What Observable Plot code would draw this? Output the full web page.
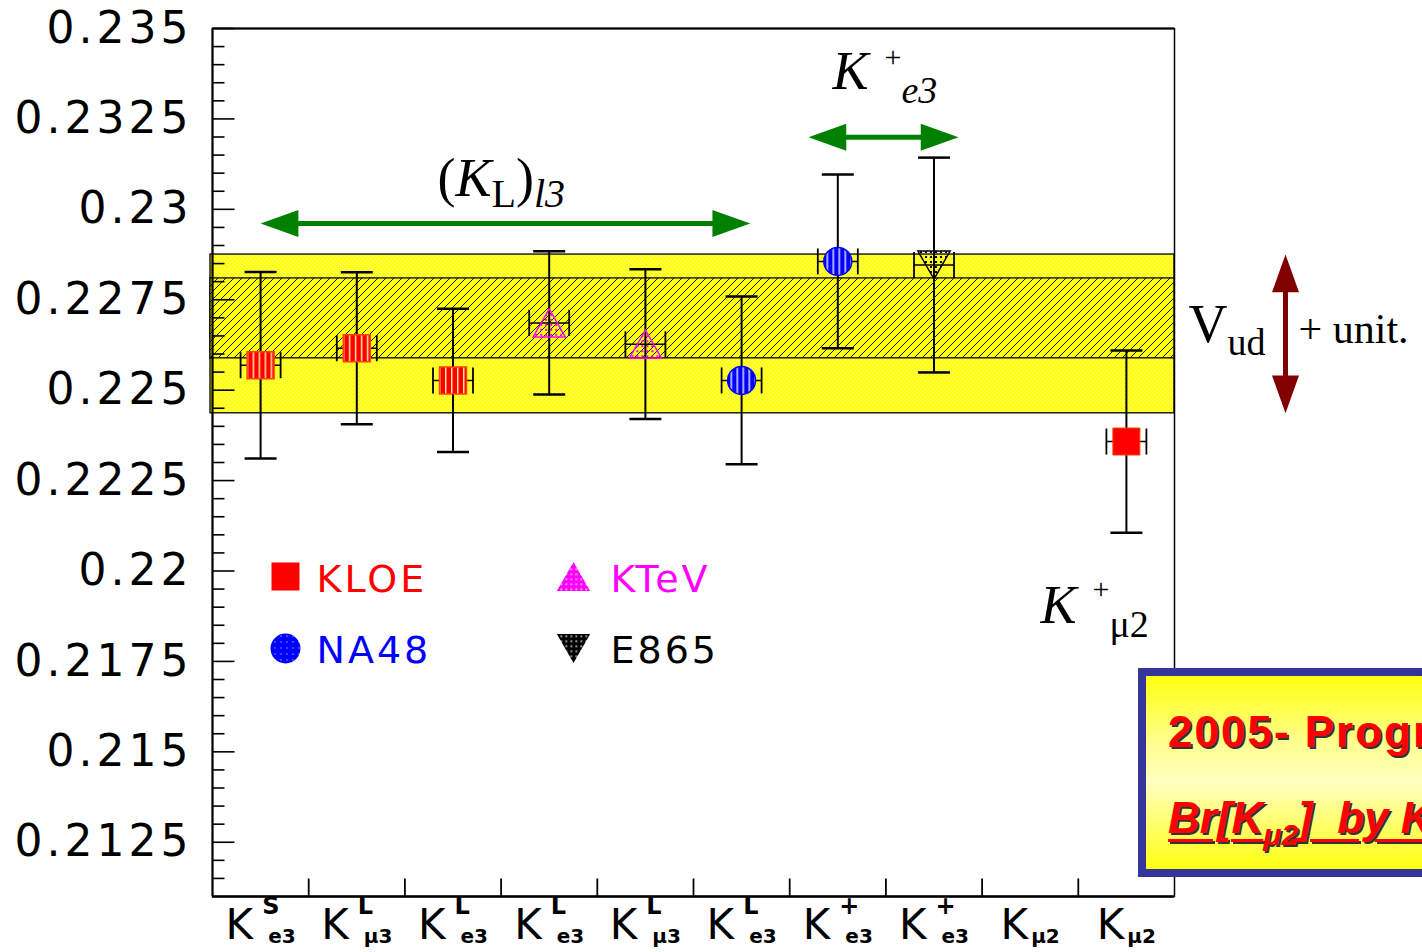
<!DOCTYPE html>
<html><head><meta charset="utf-8">
<script src="https://cdn.jsdelivr.net/npm/d3@7"></script>
<script src="https://cdn.jsdelivr.net/npm/@observablehq/plot@0.6"></script>
<style>
html,body{margin:0;padding:0;background:#fff;overflow:hidden;}
#wrap{position:relative;width:1422px;height:952px;overflow:hidden;}
#chart svg{display:block;}
[aria-label="y-axis tick label"] text{letter-spacing:4px;}
#box{position:absolute;left:1138px;top:668px;width:420px;height:209px;box-sizing:border-box;border:8px solid #35359a;
 background:linear-gradient(to bottom,#ffff10 0%,#ffff90 35%,#ffffc0 55%,#ffff60 80%,#ffff10 100%);}
#box .l{position:absolute;left:22px;white-space:nowrap;font-family:'Liberation Sans',Arial,sans-serif;font-weight:bold;font-size:44px;line-height:44px;color:#ff0000;text-shadow:2px 2px 0 #333;}
#box .l1{top:34px;letter-spacing:2px;}
#box .l2{top:120px;font-style:italic;text-decoration:underline;text-decoration-color:#ff0000;text-decoration-thickness:3px;text-underline-offset:6px;}
#box .l2 sub{font-size:30px;vertical-align:-12px;line-height:0;}
</style></head><body>
<svg width="0" height="0" style="position:absolute">
<defs>
<pattern id="yel" width="4" height="4" patternUnits="userSpaceOnUse">
 <rect width="4" height="4" fill="#ffff10"/>
 <rect x="0" y="0" width="1" height="1" fill="#ffffb4"/>
 <rect x="2" y="2" width="1" height="1" fill="#ffffb4"/>
</pattern>
<pattern id="hatch" width="8" height="8" patternUnits="userSpaceOnUse">
 <rect width="8" height="8" fill="#ffff10"/>
 <path d="M-2,2 L2,-2 M0,8 L8,0 M6,10 L10,6" stroke="#000" stroke-width="0.9"/>
</pattern>
<pattern id="redstripe" width="6" height="6" patternUnits="userSpaceOnUse">
 <rect width="6" height="6" fill="#ff0000"/>
 <rect x="4" width="1.5" height="6" fill="#ffe8a0"/>
</pattern>
<pattern id="bluestripe" width="6" height="6" patternUnits="userSpaceOnUse">
 <rect width="6" height="6" fill="#0000ff"/>
 <rect x="4" width="1.5" height="6" fill="#e0e0ff"/>
</pattern>
<pattern id="magdots" width="5" height="5" patternUnits="userSpaceOnUse">
 <rect x="1" y="1" width="2" height="2" fill="#ff00ff"/>
</pattern>
<pattern id="blkdots" width="5" height="5" patternUnits="userSpaceOnUse">
 <rect x="1" y="1" width="2" height="2" fill="#000"/>
</pattern>
<pattern id="magLeg" width="5" height="5" patternUnits="userSpaceOnUse">
 <rect width="5" height="5" fill="#ff00ff"/>
 <rect x="2" y="2" width="1.5" height="1.5" fill="#fff"/>
</pattern>
<pattern id="blkLeg" width="5" height="5" patternUnits="userSpaceOnUse">
 <rect width="5" height="5" fill="#000"/>
 <rect x="2" y="2" width="1.5" height="1.5" fill="#fff"/>
</pattern>
<pattern id="blueLeg" width="6" height="6" patternUnits="userSpaceOnUse">
 <rect width="6" height="6" fill="#0000ff"/>
 <rect x="3" y="3" width="1" height="1" fill="#fff"/>
</pattern>
</defs></svg>
<div id="wrap"><div id="chart"></div>
<div id="box"><div class="l l1">2005- Progress</div><div class="l l2">Br[K<sub>μ2</sub>]&nbsp; by KLOE</div></div>
</div>
<script>
// ---------- data ----------
const catBase = ["K","K","K","K","K","K","K","K","K","K"];
const catSup  = ["S","L","L","L","L","L","+","+","",""];
const catSub  = ["e3","μ3","e3","e3","μ3","e3","e3","e3","μ2","μ2"];
const expName  = ["KLOE","KLOE","KLOE","KTeV","KTeV","NA48","NA48","E865","KLOE"];
const expCat   = [0,1,2,3,4,5,6,7,9];
const expValue = [0.22569,0.22616,0.22527,0.22686,0.22627,0.22527,0.22856,0.22846,0.22358];
const expError = [0.00258,0.00210,0.00198,0.00198,0.00207,0.00232,0.00240,0.00297,0.00252];
const vudBand  = [0.22436,0.22875];
const unitBand = [0.22588,0.22809];
const yTickLabels = [0.2125,0.215,0.2175,0.22,0.2225,0.225,0.2275,0.23,0.2325,0.235];
const legendNames = ["KLOE","KTeV","NA48","E865"];

// ---------- setup ----------
const XMIN=-0.5, XMAX=9.5, YMIN=0.211, YMAX=0.235;
const pts = expCat.map((c,i)=>({cat:c, exp:expName[i], v:expValue[i], e:expError[i]}));
const inBand = d => d.v >= vudBand[0] && d.v <= vudBand[1];
const yAll = d3.range(423, 471).map(k => ({v: k*0.0005, major: k % 5 === 0}));
const xBounds = d3.range(0, 9).map(k => k + 0.5);

const R = s => Math.sqrt(s/Math.PI);
const sym = {
  hline:{draw(c,s){const r=R(s);c.moveTo(-r,0);c.lineTo(r,0);}},
  vline:{draw(c,s){const r=R(s);c.moveTo(0,-r);c.lineTo(0,r);}},
  tickRight:{draw(c,s){const r=R(s);c.moveTo(0,0);c.lineTo(r,0);}},
  tickUp:{draw(c,s){const r=R(s);c.moveTo(0,0);c.lineTo(0,-r);}},
  rect:{draw(c,s){const r=R(s);c.rect(-r,-r,2*r,2*r);}},
  triUp:{draw(c,s){const r=R(s);c.moveTo(0,-r);c.lineTo(1.15*r,r);c.lineTo(-1.15*r,r);c.closePath();}},
  triDown:{draw(c,s){const r=R(s);c.moveTo(0,r);c.lineTo(1.15*r,-r);c.lineTo(-1.15*r,-r);c.closePath();}},
  headR:{draw(c,s){const r=R(s);c.moveTo(0,0);c.lineTo(-1.4*r,-0.5*r);c.lineTo(-1.4*r,0.5*r);c.closePath();}},
  headL:{draw(c,s){const r=R(s);c.moveTo(0,0);c.lineTo(1.4*r,-0.5*r);c.lineTo(1.4*r,0.5*r);c.closePath();}},
  headU:{draw(c,s){const r=R(s);c.moveTo(0,0);c.lineTo(-0.5*r,1.4*r);c.lineTo(0.5*r,1.4*r);c.closePath();}},
  headD:{draw(c,s){const r=R(s);c.moveTo(0,0);c.lineTo(-0.5*r,-1.4*r);c.lineTo(0.5*r,-1.4*r);c.closePath();}}
};

const expStyle = {
  KLOE:{symbol:sym.rect, r:13.5, fillIn:"url(#redstripe)", fillOut:"#ff0000", stroke:"#ff4000", color:"#ff0000", leg:"#ff0000", legSym:sym.rect, legR:14},
  KTeV:{symbol:sym.triUp, r:14, fillIn:"url(#magdots)", fillOut:"url(#magdots)", stroke:"#ff00ff", color:"#ff00ff", leg:"url(#magLeg)", legSym:sym.triUp, legR:14.5},
  NA48:{symbol:"circle", r:14, fillIn:"url(#bluestripe)", fillOut:"url(#bluestripe)", stroke:"#0000ff", color:"#0000ff", leg:"url(#blueLeg)", legSym:"circle", legR:15},
  E865:{symbol:sym.triDown, r:14, fillIn:"url(#blkdots)", fillOut:"url(#blkdots)", stroke:"#000000", color:"#000000", leg:"url(#blkLeg)", legSym:sym.triDown, legR:14.5}
};

// text measuring for rich (sub/superscript) text
const ctx2d = document.createElement("canvas").getContext("2d");
function textWidth(t, size, family, style, weight){
  ctx2d.font = `${style||"normal"} ${weight||"normal"} ${size}px ${family}`;
  return ctx2d.measureText(t).width;
}
function rich(x, y, parts, opts={}){
  const family = opts.family || "'Liberation Serif'";
  let off = opts.dx || 0;
  const out = [];
  for (const p of parts){
    off += p.pre || 0;
    if (p.at !== undefined) off = p.at;
    const fam = p.family || family;
    out.push(Plot.text([p.t], {
      x: () => x, y: () => y, text: d => d,
      dx: off, dy: (opts.dy||0) + (p.dy||0),
      fontSize: p.size, fontFamily: fam, fontStyle: p.style||"normal", fontWeight: p.weight||"normal",
      fill: p.fill || opts.fill || "black", textAnchor: "start", lineAnchor: "bottom"
    }));
    off += textWidth(p.t, p.size, fam, p.style, p.weight);
  }
  return out;
}

// x tick labels (K with super/subscripts)
const dv = "'DejaVu Sans'";
const xLabelMarks = catBase.flatMap((base, i) => {
  const sup = catSup[i], sub = catSub[i];
  const wK = textWidth(base, 42, dv);
  const wSub = textWidth(sub, 20, dv, "normal", "bold");
  const subOff = sup ? wK + 15 : wK + 3;
  const start = -(subOff + wSub)/2;
  const parts = [{t: base, size: 42, dy: 42}];
  if (sup) parts.push({t: sup, size: 24, weight: "bold", dy: 17, at: start + wK + 9});
  parts.push({t: sub, size: 20, weight: "bold", dy: 46, at: start + subOff});
  return rich(i, YMIN, parts, {family: dv, dx: start});
});

// legend marks
const legendMarks = legendNames.flatMap((name, k) => {
  const col = k % 2, row = Math.floor(k / 2);
  const st = expStyle[name];
  return [
    Plot.dot([name], {frameAnchor:"top-left", dx: 73 + col*288, dy: 548 + row*72, symbol: st.legSym, r: st.legR, fill: st.leg, stroke: "none"}),
    Plot.text([name], {frameAnchor:"top-left", dx: 104 + col*294, dy: 563 + row*71, text: d => d, textAnchor:"start", lineAnchor:"bottom",
      fontSize: 38, fontFamily: dv, fill: st.color})
  ];
});

// annotations (in data coordinates)
const green = "#008000", darkRed = "#800000";
const hArrows = [{x1: 0.0, x2: 5.09, y: 0.22961}, {x1: 5.695, x2: 7.255, y: 0.23199}];
const vArrow = [{x: 10.654, top: vudBand[1], bottom: vudBand[0]}];

const annot = [
  ...rich(1.839, 0.23036, [
    {t:"(", size:54}, {t:"K", size:54, style:"italic"}, {t:"L", size:40, dy:11},
    {t:")", size:54}, {t:"l3", size:40, style:"italic", dy:11}
  ]),
  ...rich(5.945, 0.23334, [
    {t:"K", size:54, style:"italic"}, {t:"+", size:30, pre:16, dy:-22}, {t:"e3", size:38, style:"italic", dy:14}
  ]),
  ...rich(8.107, 0.21855, [
    {t:"K", size:54, style:"italic"}, {t:"+", size:30, pre:16, dy:-24}, {t:"μ2", size:38, dy:14}
  ]),
  ...rich(9.646, 0.22632, [
    {t:"V", size:54}, {t:"ud", size:38, dy:13}, {t:"+ unit.", size:42, pre:33, dy:1}
  ])
];

const markerMarks = legendNames.flatMap(name => {
  const st = expStyle[name];
  const data = pts.filter(d => d.exp === name);
  return [
    Plot.dot(data.filter(inBand), {x:"cat", y:"v", symbol: st.symbol, r: st.r, fill: st.fillIn, stroke: st.stroke, strokeWidth: 1.5}),
    Plot.dot(data.filter(d => !inBand(d)), {x:"cat", y:"v", symbol: st.symbol, r: st.r, fill: st.fillOut, stroke: st.stroke, strokeWidth: 1})
  ];
});

const chart = Plot.plot({
  width: 1422, height: 952,
  marginLeft: 212, marginRight: 248, marginTop: 28, marginBottom: 56,
  x: {domain: [XMIN, XMAX], axis: null},
  y: {domain: [YMIN, YMAX]},
  style: {background: "white", fontFamily: "DejaVu Sans", color: "black", overflow: "visible"},
  marks: [
    // bands
    Plot.rect([vudBand], {x1: () => XMIN, x2: () => XMAX, y1: d => d[0], y2: d => d[1], fill: "url(#yel)", stroke: "black", strokeWidth: 1.3, insetLeft: -2}),
    Plot.rect([unitBand], {x1: () => XMIN, x2: () => XMAX, y1: d => d[0], y2: d => d[1], fill: "url(#hatch)", stroke: "black", strokeWidth: 1.3, insetLeft: -2}),
    // frame and axes
    Plot.frame({stroke: "black", strokeWidth: 1.5}),
    Plot.ruleY([YMIN], {stroke: "black", strokeWidth: 2.5}),
    Plot.ruleY([YMAX], {stroke: "black", strokeWidth: 2}),
    Plot.ruleX([XMIN], {stroke: "black", strokeWidth: 2}),
    Plot.dot(yAll.filter(d => !d.major), {x: () => XMIN, y: "v", symbol: sym.tickRight, r: 12, stroke: "black", strokeWidth: 1.6, fill: "none"}),
    Plot.dot(yAll.filter(d => d.major), {x: () => XMIN, y: "v", symbol: sym.tickRight, r: 22, stroke: "black", strokeWidth: 1.6, fill: "none"}),
    Plot.dot(xBounds, {x: d => d, y: () => YMIN, symbol: sym.tickUp, r: 18, stroke: "black", strokeWidth: 1.8, fill: "none"}),
    Plot.axisY({ticks: yTickLabels, tickSize: 0, tickPadding: 20, tickFormat: d => String(+d.toFixed(4)), fontSize: 44, fontFamily: "DejaVu Sans", label: null, fill: "black"}),
    ...xLabelMarks,
    // error bars
    Plot.ruleX(pts, {x: "cat", y1: d => d.v - d.e, y2: d => d.v + d.e, stroke: "black", strokeWidth: 2}),
    Plot.dot(pts, {x: "cat", y: d => d.v + d.e, symbol: sym.hline, r: 16, stroke: "black", strokeWidth: 2.5, fill: "none"}),
    Plot.dot(pts, {x: "cat", y: d => d.v - d.e, symbol: sym.hline, r: 16, stroke: "black", strokeWidth: 2.5, fill: "none"}),
    Plot.dot(pts, {x: "cat", y: "v", symbol: sym.hline, r: 20, stroke: "black", strokeWidth: 1.5, fill: "none"}),
    Plot.dot(pts, {x: "cat", y: "v", symbol: sym.vline, r: 13, dx: -20, stroke: "black", strokeWidth: 1.8, fill: "none"}),
    Plot.dot(pts, {x: "cat", y: "v", symbol: sym.vline, r: 13, dx: 20, stroke: "black", strokeWidth: 1.8, fill: "none"}),
    ...markerMarks,
    // legend
    ...legendMarks,
    // annotation arrows
    Plot.ruleY(hArrows, {y: "y", x1: "x1", x2: "x2", stroke: green, strokeWidth: 5, insetLeft: 20, insetRight: 20}),
    Plot.dot(hArrows, {x: "x1", y: "y", symbol: sym.headL, r: 27, fill: green, stroke: "none"}),
    Plot.dot(hArrows, {x: "x2", y: "y", symbol: sym.headR, r: 27, fill: green, stroke: "none"}),
    Plot.ruleX(vArrow, {x: "x", y1: "top", y2: "bottom", stroke: darkRed, strokeWidth: 5, insetTop: 20, insetBottom: 20}),
    Plot.dot(vArrow, {x: "x", y: "top", symbol: sym.headU, r: 27, fill: darkRed, stroke: "none"}),
    Plot.dot(vArrow, {x: "x", y: "bottom", symbol: sym.headD, r: 27, fill: darkRed, stroke: "none"}),
    ...annot
  ]
});
document.getElementById("chart").appendChild(chart);
// letter-spacing for the legend labels
d3.select(chart).selectAll("text").filter(function(){ return legendNames.includes(this.textContent); }).style("letter-spacing", "3px");
</script>
</body></html>
